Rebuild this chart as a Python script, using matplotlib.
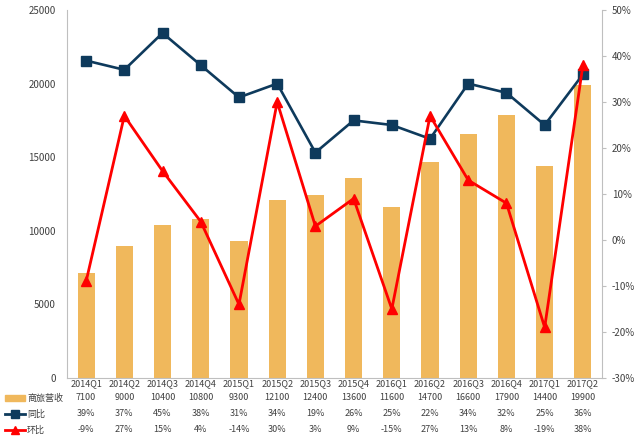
import matplotlib
matplotlib.use("Agg")
import matplotlib.pyplot as plt
import matplotlib.transforms as mtransforms
from matplotlib.lines import Line2D
from matplotlib.patches import Rectangle

plt.rcParams["font.family"] = ["Noto Sans CJK SC", "DejaVu Sans"]

# ── Data ───────────────────────────────────────────────────────────────────────
quarters = ["2014Q1", "2014Q2", "2014Q3", "2014Q4", "2015Q1", "2015Q2", "2015Q3",
            "2015Q4", "2016Q1", "2016Q2", "2016Q3", "2016Q4", "2017Q1", "2017Q2"]
revenue = [7100, 9000, 10400, 10800, 9300, 12100, 12400,
           13600, 11600, 14700, 16600, 17900, 14400, 19900]
yoy = [39, 37, 45, 38, 31, 34, 19, 26, 25, 22, 34, 32, 25, 36]
qoq = [-9, 27, 15, 4, -14, 30, 3, 9, -15, 27, 13, 8, -19, 38]
series_names = ["商旅营收", "同比", "环比"]

BAR_C = "#F0B85C"
BLUE = "#0E3A5C"
RED = "#FF0000"
GRAY = "#BFBFBF"
TXT = "#404040"

fig = plt.figure(figsize=(6.4, 4.38), dpi=100)
ax = fig.add_axes([67 / 640, 60 / 438, 535 / 640, 368 / 438])
ax2 = ax.twinx()

x = list(range(len(quarters)))
ax.bar(x, revenue, width=0.45, color=BAR_C, zorder=1)
ax.set_ylim(0, 25000)
ax.set_yticks(range(0, 25001, 5000))
ax.set_xlim(-0.5, len(quarters) - 0.5)
ax.set_xticks(x)
ax.set_xticklabels(quarters)

ax2.plot(x, yoy, color=BLUE, lw=1.9, marker="s", ms=6.5, zorder=3)
ax2.plot(x, qoq, color=RED, lw=2.0, marker="^", ms=6.5, zorder=4)
ax2.set_ylim(-30, 50)
ax2.set_yticks(range(-30, 51, 10))
ax2.set_yticklabels([f"{v}%" for v in range(-30, 51, 10)])

for a in (ax, ax2):
    for s in a.spines.values():
        s.set_visible(False)
ax.spines["left"].set_visible(True)
ax.spines["left"].set_color(GRAY)
ax.spines["bottom"].set_visible(True)
ax.spines["bottom"].set_color(GRAY)
ax2.spines["right"].set_visible(True)
ax2.spines["right"].set_color(GRAY)

ax.tick_params(axis="y", length=0, labelsize=7, colors=TXT, pad=8)
ax.tick_params(axis="x", length=0, labelsize=6.5, colors=TXT, pad=1)
ax2.tick_params(axis="y", direction="out", length=3, color=GRAY,
                labelsize=7, labelcolor=TXT, pad=4)

# ── Data table under the chart ────────────────────────────────────────────────
trans = mtransforms.blended_transform_factory(ax.transData, fig.transFigure)
rows_y = [1 - 398 / 438, 1 - 414 / 438, 1 - 430 / 438]
rows = [[str(v) for v in revenue],
        [f"{v}%" for v in yoy],
        [f"{v}%" for v in qoq]]
for ry, vals in zip(rows_y, rows):
    for xi, v in zip(x, vals):
        ax.text(xi, ry, v, transform=trans, ha="center", va="center",
                fontsize=6.5, color=TXT)

# row labels with legend keys
fig.patches.append(Rectangle((5 / 640, rows_y[0] - 3 / 438), 20 / 640, 6 / 438,
                             transform=fig.transFigure, color=BAR_C))
for ry, c, m in [(rows_y[1], BLUE, "s"), (rows_y[2], RED, "^")]:
    fig.lines.append(Line2D([5 / 640, 25 / 640], [ry, ry], transform=fig.transFigure,
                            color=c, lw=2.0))
    fig.lines.append(Line2D([15 / 640], [ry], transform=fig.transFigure,
                            color=c, marker=m, ms=5.5))
for ry, name in zip(rows_y, series_names):
    fig.text(27 / 640, ry, name, ha="left", va="center", fontsize=6.5, color=TXT)

fig.savefig("out.png", dpi=100)
